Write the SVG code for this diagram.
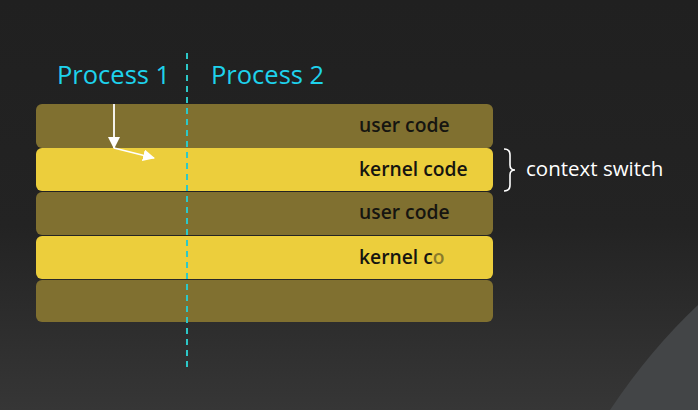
<svg xmlns="http://www.w3.org/2000/svg" width="698" height="410" viewBox="0 0 698 410">
<defs>
<linearGradient id="bg" x1="0" y1="0" x2="0" y2="1">
<stop offset="0" stop-color="#202020"/>
<stop offset="0.55" stop-color="#232323"/>
<stop offset="1" stop-color="#363636"/>
</linearGradient>
<marker id="ah" viewBox="0 0 12 12" refX="11" refY="6" markerWidth="12" markerHeight="12" markerUnits="userSpaceOnUse" orient="auto">
<path d="M0,0 L12,6 L0,12 Z" fill="#ffffff"/>
</marker>
<style>
.user{fill:#807030}
.kern{fill:#ecce3c}
.lbl{font-family:"Open Sans","Noto Sans",sans-serif;font-size:19.3px;font-weight:600;fill:#161510}
.proc{font-family:"Open Sans","Noto Sans",sans-serif;font-size:25.5px;font-weight:500;fill:#1ed2ec}
.cs{font-family:"Open Sans","Noto Sans",sans-serif;font-size:20.5px;fill:#ffffff}
</style>
</defs>
<rect x="0" y="0" width="698" height="410" fill="url(#bg)"/>
<path d="M698,305 Q650,350 610,410 L698,410 Z" fill="#434547"/>
<g id="process1"><text class="proc" x="57" y="84">Process 1</text></g>
<g id="process2"><text class="proc" x="211" y="84">Process 2</text></g>
<g id="row1"><rect class="user" x="36" y="104" width="457" height="44" rx="6"/><text class="lbl" x="359" y="132">user code</text></g>
<g id="row2"><rect class="kern" x="36" y="148" width="457" height="43" rx="6"/><text class="lbl" x="359" y="176">kernel code</text></g>
<g id="row3"><rect class="user" x="36" y="192" width="457" height="43" rx="6"/><text class="lbl" x="359" y="219">user code</text></g>
<g id="row4"><rect class="kern" x="36" y="236" width="457" height="43" rx="6"/><text class="lbl" x="359" y="264">kernel c<tspan fill="#8a7a2a">o</tspan></text></g>
<g id="row5"><rect class="user" x="36" y="280" width="457" height="42" rx="6"/></g>
<g id="context-switch">
<path d="M504,149 Q510,149 510,155 L510,165 Q510,170 515,170 Q510,170 510,175 L510,185 Q510,191 504,191" fill="none" stroke="#ffffff" stroke-width="1.6"/>
<text class="cs" x="526" y="176">context switch</text>
</g>
<g id="connectors">
<line x1="187" y1="53" x2="187" y2="367" stroke="#2cc8c8" stroke-width="2" stroke-dasharray="6,5"/>
<line x1="114" y1="104" x2="114" y2="148" stroke="#ffffff" stroke-width="1.8" marker-end="url(#ah)"/>
<line x1="114" y1="148" x2="154" y2="158" stroke="#ffffff" stroke-width="1.8" marker-end="url(#ah)"/>
</g>
</svg>
